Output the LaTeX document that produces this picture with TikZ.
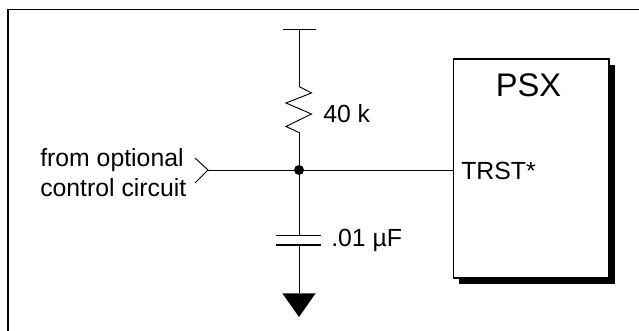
\documentclass[tikz,border=0pt]{standalone}
\usepackage{fontspec}
\setmainfont{Liberation Sans}
\newlength{\pxu}
\setlength{\pxu}{0.75pt}
\tikzstyle{wire} = [draw=black, line width=0.7pt]
\tikzstyle{plate} = [draw=black, line width=1.4pt]
\tikzstyle{textlabel} = [inner sep=0pt, font=\fontsize{18.6pt}{22.5pt}\selectfont]
\tikzstyle{chip} = [rectangle, draw=black, fill=white, line width=1.2pt, minimum width=155.5\pxu, minimum height=219\pxu, inner sep=0pt, anchor=north west]

\begin{document}
\begin{tikzpicture}[x=0.75pt, y=-0.75pt]
\useasboundingbox (0,0) rectangle (639,331);

\coordinate (framesw) at (8,331);
\coordinate (framenw) at (8,9.5);
\coordinate (framene) at (639,9.5);
\draw [draw=black, line width=1.4pt] (framesw) -- (framenw) -- (framene);

\node (shadow) [rectangle, fill=black, minimum width=155.5\pxu, minimum height=219\pxu, inner sep=0pt, anchor=north west] at (459,65) {};
\node (psx) [chip] at (452.5,58.5) {};
\node (psxname) [textlabel, font=\fontsize{24.5pt}{28pt}\selectfont] at (528.5,85) {PSX};
\node (trst) [textlabel, anchor=west] at (461,171) {TRST*};

\coordinate (tie) at (299,170);
\coordinate (rail) at (299,29.5);
\coordinate (railw) at (282.5,29.5);
\coordinate (raile) at (316,29.5);
\coordinate (restop) at (299,86.5);
\coordinate (resbot) at (299,132.5);
\coordinate (captop) at (299,235.5);
\coordinate (capbot) at (299,245);
\coordinate (tip) at (208,170);
\coordinate (gndtop) at (299,293.5);

\node (dot) [circle, fill=black, minimum size=10\pxu, inner sep=0pt] at (tie) {};

\node (res) [textlabel, anchor=west] at (323,114) {40 k};
\node (cap) [textlabel, anchor=west] at (331,240) {.01 µF};
\node (from) [textlabel, align=left, anchor=west] at (40,173) {from optional\\control circuit};

\draw [plate] (railw) -- (raile);
\draw [wire] (rail) -- (restop);
\draw [wire] (restop) -- ++(12.5,6.5) -- ++(-25.5,10) -- ++(25.5,11) -- ++(-25.5,12.5) -- (resbot);
\draw [wire] (resbot) -- (dot);
\draw [wire] (dot) -- (captop);
\draw [wire] (capbot) -- (gndtop);
\draw [plate] (275.5,235.5) -- (320.5,235.5);
\draw [plate] (275.5,245) -- (320.5,245);
\draw [wire] (tip) -- (psx.west |- tie);
\draw [wire] (195,158) -- (tip) -- (195,183);
\fill [black] (282.5,293.5) -- (315.5,293.5) -- (299,317) -- cycle;
\end{tikzpicture}
\end{document}
